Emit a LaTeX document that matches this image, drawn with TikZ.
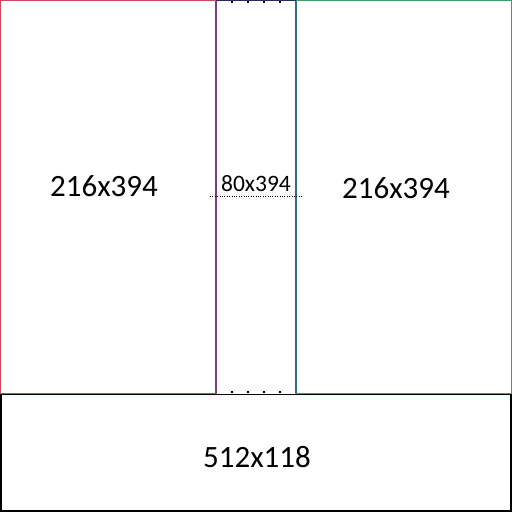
\documentclass[tikz,border=0pt]{standalone}
\usepackage{fontspec}
\setmainfont{Carlito}
\definecolor{lred}{RGB}{210,70,90}
\definecolor{lgreen}{RGB}{60,160,100}
\definecolor{mpurple}{RGB}{120,60,130}
\definecolor{mteal}{RGB}{50,110,140}
\definecolor{mnavy}{RGB}{40,40,100}
\tikzset{
  lbl/.style={font=\fontsize{31}{36}\selectfont, inner sep=0pt},
  slbl/.style={font=\fontsize{23.5}{28}\selectfont, inner sep=0pt},
  bord/.style={line width=1.4pt},
  tick/.style={fill=black}
}
\begin{document}
\begin{tikzpicture}[x=1pt,y=-1pt]
\useasboundingbox (0,0) rectangle (512,512);
\fill[white] (0,0) rectangle (512,512);
% left
\draw[bord,lred] (0.7,0.7) -- (216,0.7) -- (216,393.5) -- (0.7,393.5) -- cycle;
% right
\draw[bord,lgreen] (296,0.7) -- (511.3,0.7) -- (511.3,393.5) -- (296,393.5) -- cycle;
% middle
\draw[bord,mnavy] (216,0.7) -- (296,0.7);
\draw[bord,mpurple] (216,0.7) -- (216,393);
\draw[bord,mteal] (296,0.7) -- (296,393);
\foreach \xx in {232,248,264,280}{
  \fill[tick] (\xx-0.9,1.4) rectangle (\xx+0.9,3.4);
  \fill[tick] (\xx-0.9,390.6) rectangle (\xx+0.9,392.6);
}
% bottom
\draw[black,line width=1.6pt] (0.8,394.5) -- (511.2,394.5) -- (511.2,511.2) -- (0.8,511.2) -- cycle;
% dotted guide
\draw[black,line width=0.8pt,dash pattern=on 0.8pt off 1.6pt] (210,196.5) -- (302,196.5);
% labels
\node[lbl] (l) at (104,186) {216x394};
\node[slbl] (m) at (256,184) {80x394};
\node[lbl] (r) at (396,188) {216x394};
\node[lbl] (b) at (257,457) {512x118};
\end{tikzpicture}
\end{document}
